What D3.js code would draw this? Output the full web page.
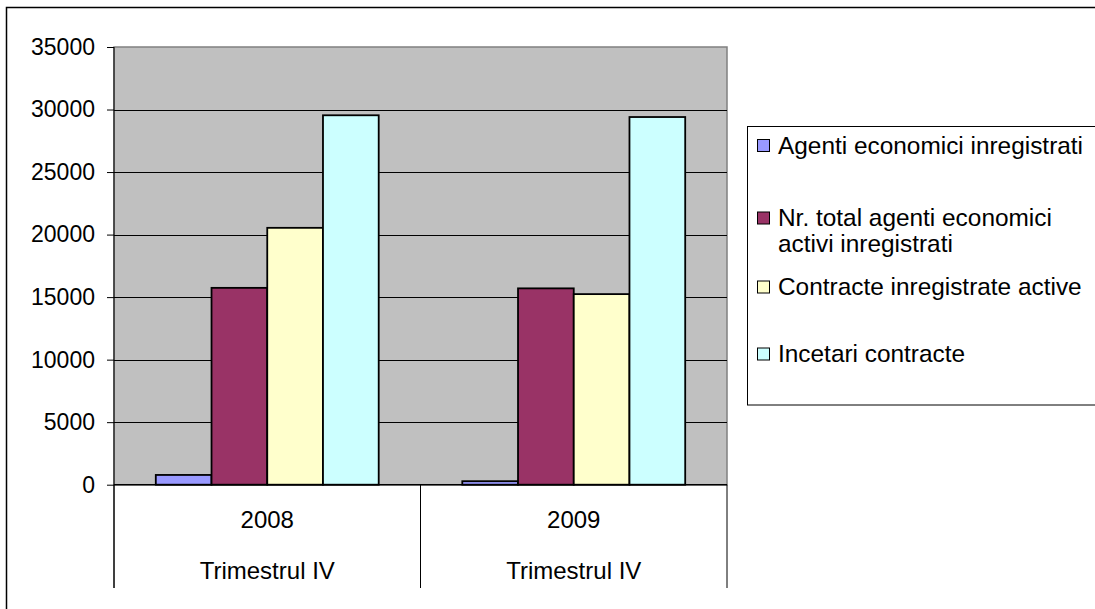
<!DOCTYPE html>
<html>
<head>
<meta charset="utf-8">
<script src="https://cdn.jsdelivr.net/npm/d3@7"></script>
<style>
  html, body { margin: 0; padding: 0; background: #fff; }
  svg { display: block; font-family: "Liberation Sans", Arial, sans-serif; }
</style>
</head>
<body>
<div id="chart"></div>
<script>
// ---- data ----
const years = ['2008', '2009'];
const quarterLabels = ['Trimestrul IV', 'Trimestrul IV'];
const seriesNames = [
  'Agenti economici inregistrati',
  'Nr. total agenti economici activi inregistrati',
  'Contracte inregistrate active',
  'Incetari contracte'
];
const agentiInregistrati = [780, 280];
const totalAgentiActivi = [15740, 15700];
const contracteActive = [20540, 15240];
const incetariContracte = [29540, 29400];
const yTicks = [0, 5000, 10000, 15000, 20000, 25000, 30000, 35000];

const seriesValues = [agentiInregistrati, totalAgentiActivi, contracteActive, incetariContracte];
const seriesColors = ['#9999FF', '#993366', '#FFFFCC', '#CCFFFF'];
// legend label wrapping (Excel wraps the long one)
const legendLines = [
  ['Agenti economici inregistrati'],
  ['Nr. total agenti economici', 'activi inregistrati'],
  ['Contracte inregistrate active'],
  ['Incetari contracte']
];

const W = 1095, H = 609;
const plot = { left: 114, right: 727, top: 47, bottom: 484.7 };
const catBottom = 588;

const svg = d3.select('#chart').append('svg')
  .attr('width', W).attr('height', H)
  .attr('viewBox', `0 0 ${W} ${H}`);

// chart area border
svg.append('rect')
  .attr('x', 6.5).attr('y', 7.5)
  .attr('width', 1100).attr('height', 620)
  .attr('fill', '#fff').attr('stroke', '#000').attr('stroke-width', 1.5);

const y = d3.scaleLinear().domain([0, 35000]).range([plot.bottom, plot.top]);
const x0 = d3.scaleBand().domain(years).range([plot.left, plot.right]).padding(0);
const step = x0.bandwidth();
const bw = step / 5.5;               // gap width 150%
const x1 = d3.scaleBand().domain(d3.range(seriesNames.length))
  .range([0.75 * bw, step - 0.75 * bw]).padding(0);

// plot area
svg.append('rect')
  .attr('x', plot.left).attr('y', plot.top)
  .attr('width', plot.right - plot.left).attr('height', plot.bottom - plot.top)
  .attr('fill', '#C0C0C0').attr('stroke', '#808080').attr('stroke-width', 1.5);

// gridlines
svg.append('g').selectAll('line')
  .data(yTicks.filter(t => t > 0 && t < 35000)).join('line')
  .attr('x1', plot.left).attr('x2', plot.right)
  .attr('y1', d => Math.round(y(d)) + 0.5).attr('y2', d => Math.round(y(d)) + 0.5)
  .attr('stroke', '#000').attr('stroke-width', 1);

// bars
const groups = svg.append('g').selectAll('g')
  .data(years).join('g')
  .attr('transform', d => `translate(${x0(d)},0)`);

groups.selectAll('rect')
  .data((d, i) => seriesValues.map((vals, s) => ({ s, v: vals[i] })))
  .join('rect')
  .attr('x', d => x1(d.s))
  .attr('width', x1.bandwidth())
  .attr('y', d => y(d.v))
  .attr('height', d => y(0) - y(d.v))
  .attr('fill', d => seriesColors[d.s])
  .attr('stroke', '#000').attr('stroke-width', 1.8);

// category axis line at 0
svg.append('line')
  .attr('x1', plot.left).attr('x2', plot.right)
  .attr('y1', y(0)).attr('y2', y(0))
  .attr('stroke', '#000').attr('stroke-width', 1.5);

// value axis
const yAxis = d3.axisLeft(y).tickValues(yTicks).tickSize(7).tickPadding(12)
  .tickFormat(d3.format('d'));
const ya = svg.append('g').attr('transform', `translate(${plot.left},0)`).call(yAxis);
ya.select('.domain').remove();
ya.selectAll('.tick line').attr('stroke', '#000');
ya.selectAll('.tick text')
  .attr('font-size', 23).attr('fill', '#000')
  .attr('font-family', '"Liberation Sans", Arial, sans-serif');
svg.append('line')
  .attr('x1', plot.left).attr('x2', plot.left)
  .attr('y1', plot.top).attr('y2', catBottom)
  .attr('stroke', '#000').attr('stroke-width', 1);

// category dividers (multi-level axis)
const dividers = years.map(d => x0(d)).concat([plot.right]);
svg.append('g').selectAll('line')
  .data(dividers).join('line')
  .attr('x1', d => d).attr('x2', d => d)
  .attr('y1', plot.bottom).attr('y2', catBottom)
  .attr('stroke', '#000').attr('stroke-width', 1);

svg.append('g').selectAll('text')
  .data(years).join('text')
  .attr('x', d => x0(d) + step / 2).attr('y', 528)
  .attr('text-anchor', 'middle').attr('font-size', 24).attr('fill', '#000')
  .text(d => d);

svg.append('g').selectAll('text')
  .data(quarterLabels).join('text')
  .attr('x', (d, i) => x0(years[i]) + step / 2).attr('y', 578.5)
  .attr('text-anchor', 'middle').attr('font-size', 24).attr('fill', '#000')
  .text(d => d);

// legend
svg.append('rect')
  .attr('x', 747.5).attr('y', 126.5)
  .attr('width', 400).attr('height', 278.5)
  .attr('fill', '#fff').attr('stroke', '#000').attr('stroke-width', 1);

const legendY = [145.5, 218, 287, 354];
const lg = svg.append('g').selectAll('g')
  .data(seriesNames).join('g')
  .attr('transform', (d, i) => `translate(757,${legendY[i]})`);

lg.append('rect')
  .attr('x', 0.5).attr('y', -6).attr('width', 12).attr('height', 12)
  .attr('fill', (d, i) => seriesColors[i])
  .attr('stroke', '#000').attr('stroke-width', 1);

lg.append('text')
  .attr('x', 21).attr('y', 8.3)
  .attr('font-size', 24.4).attr('fill', '#000')
  .selectAll('tspan')
  .data((d, i) => legendLines[i]).join('tspan')
  .attr('x', 21).attr('dy', (d, j) => j === 0 ? 0 : 26)
  .text(d => d);
</script>
</body>
</html>
